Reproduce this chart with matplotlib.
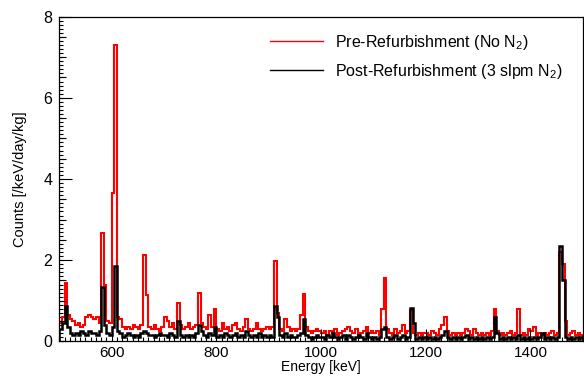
"""Gamma spectrum comparison: before vs after refurbishment with N2 purge."""
import matplotlib
matplotlib.use("Agg")
import matplotlib.pyplot as plt
import numpy as np
from matplotlib.lines import Line2D
from matplotlib.ticker import MultipleLocator

plt.rcParams["font.family"] = ["Liberation Sans", "DejaVu Sans"]
plt.rcParams["mathtext.default"] = "regular"

# 5 keV bins from 500 to 1500 keV
e_min, e_max, bin_width = 500, 1500, 5

pre_counts = [
    0.45, 0.60, 1.45, 0.65, 0.55, 0.50, 0.40, 0.45, 0.35, 0.40,
    0.60, 0.65, 0.60, 0.55, 0.60, 0.45, 2.67, 1.40, 0.50, 0.45,
    3.65, 7.30, 0.60, 0.55, 0.35, 0.30, 0.35, 0.30, 0.40, 0.35,
    0.30, 0.40, 2.12, 1.15, 0.35, 0.30, 0.40, 0.30, 0.25, 0.35,
    0.60, 0.50, 0.35, 0.45, 0.30, 0.95, 0.40, 0.30, 0.35, 0.45,
    0.30, 0.35, 0.40, 1.20, 0.45, 0.35, 0.30, 0.65, 0.35, 0.80,
    0.30, 0.25, 0.45, 0.30, 0.35, 0.25, 0.40, 0.45, 0.30, 0.25,
    0.35, 0.55, 0.30, 0.25, 0.30, 0.45, 0.30, 0.25, 0.30, 0.35,
    0.30, 0.35, 1.97, 0.70, 0.30, 0.25, 0.55, 0.35, 0.25, 0.30,
    0.25, 0.30, 0.65, 1.17, 0.35, 0.25, 0.20, 0.25, 0.30, 0.25,
    0.20, 0.25, 0.15, 0.25, 0.20, 0.30, 0.15, 0.20, 0.25, 0.30,
    0.35, 0.25, 0.20, 0.30, 0.15, 0.20, 0.25, 0.35, 0.20, 0.25,
    0.20, 0.25, 0.15, 0.80, 1.55, 0.30, 0.20, 0.15, 0.30, 0.20,
    0.25, 0.40, 0.20, 0.25, 0.78, 0.20, 0.15, 0.20, 0.15, 0.20,
    0.20, 0.15, 0.25, 0.20, 0.15, 0.30, 0.40, 0.60, 0.25, 0.15,
    0.20, 0.15, 0.20, 0.15, 0.20, 0.30, 0.25, 0.15, 0.30, 0.20,
    0.15, 0.20, 0.15, 0.20, 0.15, 0.25, 0.80, 0.25, 0.15, 0.20,
    0.15, 0.20, 0.25, 0.15, 0.20, 0.80, 0.15, 0.20, 0.15, 0.30,
    0.25, 0.35, 0.15, 0.20, 0.15, 0.20, 0.15, 0.20, 0.25, 0.15,
    0.20, 2.20, 1.90, 0.50, 0.15, 0.20, 0.25, 0.15, 0.20, 0.15,
]

post_counts = [
    0.30, 0.45, 0.87, 0.35, 0.20, 0.15, 0.20, 0.15, 0.25, 0.20,
    0.15, 0.25, 0.20, 0.20, 0.15, 0.25, 1.35, 0.40, 0.20, 0.15,
    0.35, 1.85, 0.25, 0.20, 0.10, 0.15, 0.20, 0.15, 0.10, 0.15,
    0.10, 0.20, 0.25, 0.20, 0.15, 0.15, 0.10, 0.15, 0.20, 0.15,
    0.15, 0.10, 0.20, 0.15, 0.10, 0.50, 0.15, 0.10, 0.15, 0.10,
    0.15, 0.10, 0.20, 0.40, 0.25, 0.15, 0.10, 0.20, 0.15, 0.35,
    0.10, 0.15, 0.10, 0.20, 0.15, 0.10, 0.15, 0.20, 0.10, 0.15,
    0.10, 0.25, 0.15, 0.10, 0.15, 0.10, 0.20, 0.10, 0.15, 0.10,
    0.15, 0.10, 0.87, 0.60, 0.15, 0.10, 0.20, 0.10, 0.15, 0.10,
    0.10, 0.15, 0.20, 0.55, 0.15, 0.10, 0.05, 0.10, 0.15, 0.10,
    0.10, 0.05, 0.15, 0.10, 0.20, 0.10, 0.05, 0.10, 0.15, 0.05,
    0.15, 0.10, 0.05, 0.10, 0.15, 0.10, 0.05, 0.20, 0.10, 0.05,
    0.10, 0.05, 0.10, 0.30, 0.35, 0.10, 0.05, 0.10, 0.15, 0.05,
    0.10, 0.15, 0.05, 0.10, 0.83, 0.45, 0.05, 0.10, 0.05, 0.10,
    0.05, 0.10, 0.05, 0.10, 0.05, 0.10, 0.15, 0.25, 0.10, 0.05,
    0.10, 0.05, 0.10, 0.05, 0.10, 0.15, 0.05, 0.10, 0.05, 0.10,
    0.05, 0.10, 0.05, 0.10, 0.05, 0.10, 0.60, 0.20, 0.05, 0.10,
    0.05, 0.10, 0.05, 0.10, 0.05, 0.15, 0.05, 0.10, 0.05, 0.10,
    0.05, 0.10, 0.05, 0.10, 0.20, 0.05, 0.10, 0.05, 0.10, 0.05,
    0.10, 2.35, 1.50, 0.10, 0.05, 0.10, 0.05, 0.10, 0.05, 0.10,
]

labels = ["Pre-Refurbishment (No N$_2$)", "Post-Refurbishment (3 slpm N$_2$)"]
colors = ["#ff0000", "#000000"]


def main():
    edges = np.arange(e_min, e_max + bin_width, bin_width)

    fig = plt.figure(figsize=(5.84, 3.76), dpi=100)
    ax = fig.add_axes([0.1015, 0.092, 0.8965, 0.864])

    ax.stairs(pre_counts, edges, color=colors[0], linewidth=1.5, baseline=0)
    ax.stairs(post_counts, edges, color=colors[1], linewidth=1.8, baseline=0)

    ax.set_xlim(e_min, e_max)
    ax.set_ylim(0, 8)

    ax.xaxis.set_major_locator(MultipleLocator(200))
    ax.xaxis.set_minor_locator(MultipleLocator(10))
    ax.yaxis.set_major_locator(MultipleLocator(2))
    ax.yaxis.set_minor_locator(MultipleLocator(0.5))
    ax.tick_params(which="both", direction="in", top=False, right=False,
                   labelsize=11.5, width=0.8)
    ax.tick_params(which="major", length=9, pad=5)
    ax.tick_params(axis="x", which="major", labelsize=11, pad=3)
    ax.tick_params(axis="y", which="minor", length=5)
    ax.tick_params(axis="x", which="minor", length=3)

    # finer ROOT-style subdivisions on the y axis
    sec = ax.secondary_yaxis("left")
    sec.yaxis.set_major_locator(MultipleLocator(0.1))
    sec.tick_params(direction="in", length=3, width=0.8, labelleft=False)
    sec.spines["left"].set_visible(False)

    for spine in ax.spines.values():
        spine.set_linewidth(0.9)

    ax.set_xlabel("Energy [keV]", fontsize=10, labelpad=0)
    ax.set_ylabel("Counts [/keV/day/kg]", fontsize=10.5, labelpad=12)

    handles = [Line2D([], [], color=c, linewidth=1.0) for c in colors]
    ax.legend(handles, labels, loc="upper left",
              bbox_to_anchor=(270 / 584, 1 - 33 / 376),
              bbox_transform=fig.transFigure, frameon=False,
              fontsize=11.5, handlelength=3.3, handletextpad=0.75,
              labelspacing=0.6, borderpad=0, borderaxespad=0)

    fig.savefig("out.png", dpi=100)
    plt.close(fig)


if __name__ == "__main__":
    main()
